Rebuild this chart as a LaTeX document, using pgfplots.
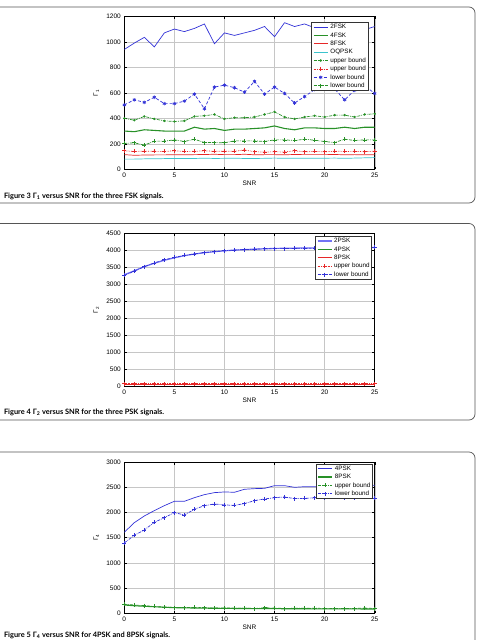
\documentclass[border=0pt]{standalone}
\usepackage{fontspec}
\setmainfont{Liberation Sans}
\newfontfamily\capfont{Lato}
\usepackage{pgfplots}
\usepackage{pgfplotstable}
\pgfplotsset{compat=1.18}

\definecolor{mblue}{RGB}{50,50,215}
\definecolor{mlightblue}{RGB}{115,115,245}
\definecolor{mgreen}{RGB}{40,145,40}
\definecolor{mred}{RGB}{230,40,40}
\definecolor{mcyan}{RGB}{60,195,205}
\definecolor{framegray}{RGB}{85,85,85}

% Gamma_1 for the FSK signals and OQPSK
\pgfplotstableread{
snr f2 f4 f8 oq ub4 ub8 lb2 lb4
0 940 300 115 80 400 145 505 203
1 990 295 110 80 385 140 545 208
2 1035 310 112 82 415 142 525 190
3 960 305 113 82 395 141 565 221
4 1070 300 113 84 380 140 515 221
5 1100 300 115 84 375 145 515 231
6 1080 300 114 85 380 140 535 218
7 1105 330 115 85 415 141 590 236
8 1140 315 116 87 420 145 475 210
9 985 320 118 85 430 141 645 210
10 1070 305 115 86 395 141 660 208
11 1050 315 115 87 405 141 640 223
12 1070 315 118 85 405 152 605 223
13 1090 320 114 85 410 137 690 223
14 1120 325 115 86 430 136 590 218
15 1040 340 115 88 450 137 645 231
16 1150 320 114 86 410 136 595 231
17 1120 310 116 87 395 145 520 226
18 1140 325 115 86 410 137 570 236
19 1110 325 115 86 420 140 625 228
20 1130 320 115 87 410 137 645 218
21 1100 320 116 88 425 142 630 210
22 1120 330 114 86 425 140 545 236
23 1090 320 115 88 410 141 620 226
24 1095 330 114 90 430 138 655 231
25 1120 330 115 92 435 142 595 231
}\tabfsk

% Gamma_2 for the PSK signals
\pgfplotstableread{
snr p2 p4 p8 ub lb
0 3280 55 62 75 3260
1 3400 55 62 75 3385
2 3520 55 62 75 3520
3 3620 55 62 75 3630
4 3705 55 62 75 3720
5 3780 55 62 75 3790
6 3840 55 62 75 3850
7 3890 55 62 75 3895
8 3930 55 62 75 3935
9 3960 55 62 75 3960
10 3985 55 62 75 3985
11 4005 55 62 75 4010
12 4020 55 62 75 4020
13 4035 55 62 75 4030
14 4045 55 62 75 4045
15 4055 55 62 75 4050
16 4060 55 62 75 4050
17 4065 55 62 75 4055
18 4070 55 62 75 4060
19 4072 55 62 75 4060
20 4075 55 62 75 4070
21 4078 55 62 75 4075
22 4080 55 62 75 4075
23 4082 55 62 75 4080
24 4084 55 62 75 4080
25 4085 55 62 75 4085
}\tabpsk

% Gamma_4 for 4PSK and 8PSK
\pgfplotstableread{
snr p4 p8 ub lb
0 1606 165 180 1395
1 1798 150 165 1547
2 1930 140 150 1652
3 2036 130 135 1804
4 2135 120 125 1897
5 2221 112 115 1996
6 2221 108 112 1950
7 2293 105 118 2062
8 2353 102 110 2135
9 2393 100 105 2168
10 2406 98 105 2148
11 2400 96 103 2141
12 2459 95 103 2175
13 2472 94 95 2234
14 2478 93 110 2267
15 2531 92 105 2293
16 2531 91 95 2307
17 2498 90 100 2274
18 2511 90 100 2280
19 2510 89 102 2290
20 2520 88 95 2290
21 2515 88 95 2300
22 2520 87 95 2290
23 2525 87 95 2290
24 2530 86 105 2300
25 2538 86 95 2287
}\tabfour

\pgfplotsset{
  matfig/.style={
    scale only axis, width=250.4pt, height=153pt,
    xmin=0, xmax=25, xtick={0,5,...,25},
    grid=major, major grid style={gray!45, line width=0.4pt},
    axis line style={black, line width=0.5pt},
    tick align=inside, major tick length=2.5pt,
    tick style={black, line width=0.4pt},
    font=\fontsize{6.5}{7}\selectfont,
    /pgf/number format/assume math mode=true,
    /pgf/number format/1000 sep={},
    scaled y ticks=false,
    xlabel={SNR},
    xlabel style={at={(axis description cs:0.5,-0.09)}, anchor=center},
    ylabel style={at={(axis description cs:-0.112,0.5)}, anchor=center},
    legend cell align=left,
    legend style={font=\fontsize{6.3}{7}\selectfont, draw=black!80, line width=0.6pt,
      fill=white, inner xsep=1.5pt, inner ysep=1pt, row sep=1.2pt, column sep=1.5pt,
      nodes={inner sep=0.6pt, text height=4.7pt, text depth=1.3pt}},
    legend image code/.code={\draw[mark repeat=2,mark phase=2,#1]
      plot coordinates {(0pt,0pt)(7pt,0pt)(14pt,0pt)};},
  },
  every axis plot/.append style={line width=0.7pt},
}

\begin{document}
\begin{tikzpicture}
\useasboundingbox (0pt,0pt) rectangle (480pt,-640pt);
\clip (0pt,0pt) rectangle (480pt,-640pt);

% panel frames
\draw[framegray, line width=0.7pt, rounded corners=6pt] (-10pt,-7pt) rectangle (475pt,-203pt);
\draw[framegray, line width=0.7pt, rounded corners=6pt] (-10pt,-223.5pt) rectangle (475pt,-420pt);
\draw[framegray, line width=0.7pt, rounded corners=6pt] (-10pt,-452pt) rectangle (475pt,-680pt);

% Figure 3
\begin{axis}[matfig, at={(124.3pt,-169.3pt)}, anchor=south west,
  ymin=0, ymax=1200, ytick={0,200,...,1200},
  ylabel={Γ\textsubscript{1}},
  legend style={at={(1,1)}, anchor=north east, xshift=-6.5pt, yshift=-5.7pt}]
\addplot[mblue, no marks] table[x=snr,y=f2] {\tabfsk};
\addplot[mgreen, no marks, line width=1.1pt] table[x=snr,y=f4] {\tabfsk};
\addplot[mred, no marks] table[x=snr,y=f8] {\tabfsk};
\addplot[mcyan, no marks] table[x=snr,y=oq] {\tabfsk};
\addplot[mgreen, densely dashdotted, mark=*, mark size=0.8pt, mark options={solid}] table[x=snr,y=ub4] {\tabfsk};
\addplot[mred, densely dotted, mark=+, mark size=2pt, mark options={solid}] table[x=snr,y=ub8] {\tabfsk};
\addplot[mblue, densely dashed, mark=asterisk, mark size=1.8pt, mark options={solid}] table[x=snr,y=lb2] {\tabfsk};
\addplot[mgreen, densely dashdotted, mark=+, mark size=2pt, mark options={solid}] table[x=snr,y=lb4] {\tabfsk};
\legend{2FSK,4FSK,8FSK,OQPSK,upper bound,upper bound,lower bound,lower bound}
\end{axis}
\node[anchor=west, font=\capfont\fontsize{7.4}{8}\selectfont] at (0.5pt,-196pt)
  {\textbf{Figure 3} \textbf{Γ\textsubscript{1} versus SNR for the three FSK signals.}};

% Figure 4
\begin{axis}[matfig, at={(124.3pt,-386.3pt)}, anchor=south west,
  ymin=0, ymax=4500, ytick={0,500,...,4500},
  ylabel={Γ\textsubscript{2}},
  legend style={at={(1,1)}, anchor=north east, xshift=-2.7pt, yshift=-2.7pt}]
\addplot[mlightblue, no marks, line width=1.2pt] table[x=snr,y=p2] {\tabpsk};
\addplot[mgreen, no marks] table[x=snr,y=p4] {\tabpsk};
\addplot[mred, no marks] table[x=snr,y=p8] {\tabpsk};
\addplot[mred, densely dotted, mark=+, mark size=2pt, mark options={solid}] table[x=snr,y=ub] {\tabpsk};
\addplot[mblue, densely dashdotted, mark=+, mark size=2pt, mark options={solid}] table[x=snr,y=lb] {\tabpsk};
\legend{2PSK,4PSK,8PSK,upper bound,lower bound}
\end{axis}
\node[anchor=west, font=\capfont\fontsize{7.4}{8}\selectfont] at (0.5pt,-412.3pt)
  {\textbf{Figure 4} \textbf{Γ\textsubscript{2} versus SNR for the three PSK signals.}};

% Figure 5
\begin{axis}[matfig, height=151.3pt, at={(124.3pt,-613.3pt)}, anchor=south west,
  ymin=0, ymax=3000, ytick={0,500,...,3000},
  ylabel={Γ\textsubscript{4}},
  legend style={at={(1,1)}, anchor=north east, xshift=-2pt, yshift=-1.7pt}]
\addplot[mblue, no marks] table[x=snr,y=p4] {\tabfour};
\addplot[mgreen, no marks, line width=1.1pt] table[x=snr,y=p8] {\tabfour};
\addplot[mgreen, densely dashdotted, mark=+, mark size=2pt, mark options={solid}] table[x=snr,y=ub] {\tabfour};
\addplot[mblue, densely dashdotted, mark=+, mark size=2pt, mark options={solid}] table[x=snr,y=lb] {\tabfour};
\legend{4PSK,8PSK,upper bound,lower bound}
\end{axis}
\node[anchor=west, font=\capfont\fontsize{7.4}{8}\selectfont] at (0.5pt,-635.5pt)
  {\textbf{Figure 5} \textbf{Γ\textsubscript{4} versus SNR for 4PSK and 8PSK signals.}};
\end{tikzpicture}
\end{document}
